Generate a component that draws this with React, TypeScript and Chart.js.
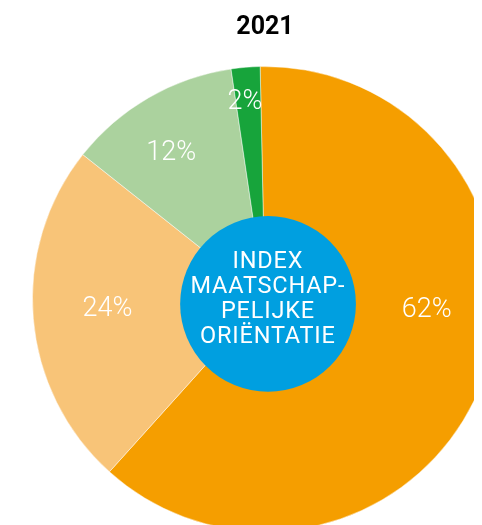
import { useEffect, useRef } from "react";
import { Chart, registerables } from "chart.js";

Chart.register(...registerables);

// ---- data ----
const TITLE = "2021";
const CATEGORIES = ["Hoog", "Gemiddeld", "Laag", "Zeer laag"];
const VALUES = [62, 24, 12, 2];
const COLORS = ["#F59E00", "#F8C478", "#ABD29E", "#17A43B"];
const CENTER_LINES = ["INDEX", "MAATSCHAP-", "PELIJKE", "ORIËNTATIE"];

// label placement (radius fraction, angle offset in degrees from the slice middle)
const LABEL_PLACEMENT = [
  { r: 0.697, da: -16.4 },
  { r: 0.679, da: 1.2 },
  { r: 0.745, da: -2.8 },
  { r: 0.85, da: -1.0 },
];

const overlayPlugin = {
  id: "overlay",
  afterDatasetsDraw(chart: any) {
    const meta = chart.getDatasetMeta(0);
    const arcs = meta.data as any[];
    if (!arcs.length) return;
    const cx = arcs[0].x;
    const cy = arcs[0].y;
    const R = arcs[0].outerRadius;
    const ctx = chart.ctx as CanvasRenderingContext2D;
    ctx.save();
    ctx.textAlign = "center";
    ctx.textBaseline = "middle";
    ctx.fillStyle = "#ffffff";
    ctx.font = "300 27px Roboto";
    arcs.forEach((arc, i) => {
      const p = LABEL_PLACEMENT[i];
      const mid = (arc.startAngle + arc.endAngle) / 2 + (p.da * Math.PI) / 180;
      ctx.fillText(
        `${VALUES[i]}%`,
        cx + Math.cos(mid) * R * p.r,
        cy + Math.sin(mid) * R * p.r
      );
    });
    // centre disc
    ctx.beginPath();
    ctx.arc(cx + R * 0.013, cy + R * 0.021, R * 0.378, 0, Math.PI * 2);
    ctx.fillStyle = "#009FE0";
    ctx.fill();
    ctx.fillStyle = "#ffffff";
    ctx.font = "400 23.5px Roboto";
    (ctx as any).letterSpacing = "0.8px";
    CENTER_LINES.forEach((t, i) => {
      ctx.fillText(t, cx + 2.9, cy + 0.3 + (i - 1.5) * 25);
    });
    ctx.restore();
  },
};

export default function App() {
  const ref = useRef<HTMLCanvasElement | null>(null);
  useEffect(() => {
    if (!ref.current) return;
    const chart = new Chart(ref.current, {
      type: "pie",
      data: {
        labels: CATEGORIES,
        datasets: [
          {
            data: VALUES,
            backgroundColor: COLORS,
            borderColor: "rgba(255,255,255,0.45)",
            borderWidth: 1,
          },
        ],
      },
      options: {
        responsive: false,
        maintainAspectRatio: false,
        animation: false,
        rotation: -1.2,
        layout: { padding: { left: 24, right: 30, top: 0, bottom: 36 } },
        plugins: {
          legend: { display: false },
          tooltip: { enabled: false },
          title: {
            display: true,
            text: TITLE,
            color: "#000000",
            font: { family: "Roboto", size: 25, weight: "bold", lineHeight: 1.2 },
            padding: { top: 4.5, bottom: 23.5 },
          },
        },
      },
      plugins: [overlayPlugin],
    });
    return () => chart.destroy();
  }, []);
  return (
    <div style={{ width: 474, height: 517, overflow: "hidden" }}>
      <canvas ref={ref} width={520} height={560} style={{ display: "block", width: 520, height: 560 }} />
    </div>
  );
}
